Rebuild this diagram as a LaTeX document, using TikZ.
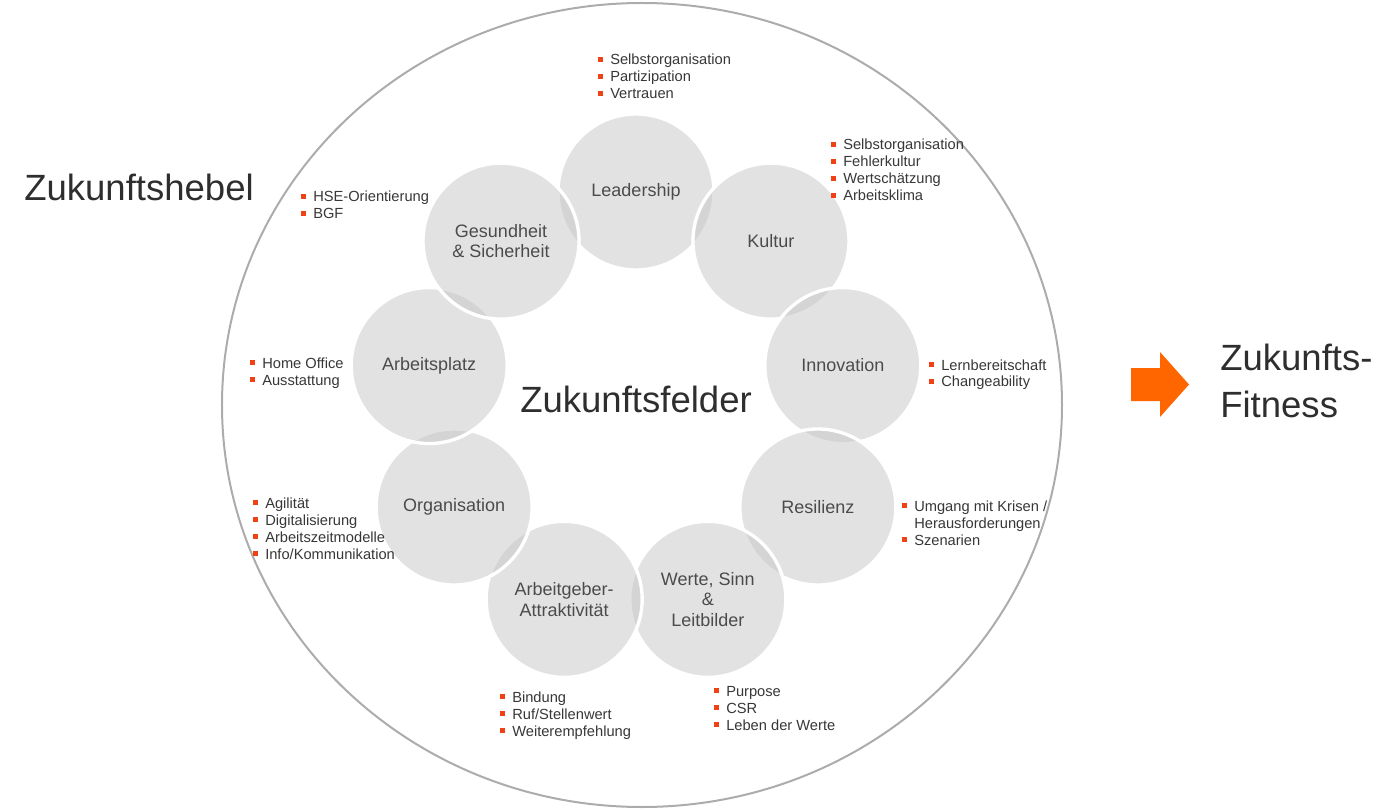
\documentclass[tikz,border=0pt]{standalone}
\usepackage{fontspec}
\setmainfont{Liberation Sans}
\usepackage{tikz}

\definecolor{feldgrau}{RGB}{198,198,198}
\definecolor{randgrau}{RGB}{172,172,172}
\definecolor{schrift}{RGB}{75,75,75}
\definecolor{punkttext}{RGB}{55,55,55}
\definecolor{punktrot}{RGB}{240,65,20}
\definecolor{pfeilorange}{RGB}{255,102,0}

\newcommand{\punkt}{\llap{\textcolor{punktrot}{\rule[2.6pt]{3.6pt}{3.6pt}}\hspace{5.4pt}}}
\newcommand{\liste}[1]{\begin{tabular}[t]{@{}l@{}}#1\end{tabular}}

\begin{document}
\begin{tikzpicture}[x=0.75pt, y=0.75pt,
	feld/.style={circle, draw=white, line width=2.5pt, fill=feldgrau, fill opacity=0.5, text opacity=1, minimum size=117pt, inner sep=0pt, align=center, text=schrift, font=\fontsize{13.5}{15.4}\selectfont},
	hebel/.style={anchor=base west, inner sep=0pt, text=punkttext, font=\fontsize{11}{12.75}\selectfont},
	titel/.style={inner sep=0pt, text=black!82, font=\fontsize{27.4}{35.25}\selectfont}]
	\useasboundingbox (-636,-408) rectangle (759,402);
	
	\draw[randgrau, line width=1.5pt] (6,-3) ellipse [x radius=420, y radius=402];
	
	\node[feld] (lead) at (90:210) {Leadership};
	\node[feld] (kultur) at (50:210) {Kultur};
	\node[feld] (innov) at (10:210) {Innovation};
	\node[feld] (resil) at (-30:210) {Resilienz};
	\node[feld] (werte) at (-70:210) {Werte, Sinn\\\&\\Leitbilder};
	\node[feld] (arbg) at (-110:210) {Arbeitgeber-\\Attraktivität};
	\node[feld] (orga) at (-150:210) {Organisation};
	\node[feld] (aplatz) at (170:210) {Arbeitsplatz};
	\node[feld] (gesund) at (130:210) {Gesundheit\\\& Sicherheit};
	
	\node[hebel] (h-lead) at (-26,337) {\liste{\punkt Selbstorganisation\\ \punkt Partizipation\\ \punkt Vertrauen}};
	\node[hebel] (h-kultur) at (207,252) {\liste{\punkt Selbstorganisation\\ \punkt Fehlerkultur\\ \punkt Wertschätzung\\ \punkt Arbeitsklima}};
	\node[hebel] (h-innov) at (305,32) {\liste{\punkt Lernbereitschaft\\ \punkt Changeability}};
	\node[hebel] (h-resil) at (278,-109) {\liste{\punkt Umgang mit Krisen /\\ Herausforderungen\\ \punkt Szenarien}};
	\node[hebel] (h-werte) at (90,-294) {\liste{\punkt Purpose\\ \punkt CSR\\ \punkt Leben der Werte}};
	\node[hebel] (h-arbg) at (-124,-300) {\liste{\punkt Bindung\\ \punkt Ruf/Stellenwert\\ \punkt Weiterempfehlung}};
	\node[hebel] (h-orga) at (-371,-106) {\liste{\punkt Agilität\\ \punkt Digitalisierung\\ \punkt Arbeitszeitmodelle\\ \punkt Info/Kommunikation}};
	\node[hebel] (h-aplatz) at (-374,34) {\liste{\punkt Home Office\\ \punkt Ausstattung}};
	\node[hebel] (h-gesund) at (-323,200) {\liste{\punkt HSE-Orientierung\\ \punkt BGF}};
	
	\node[titel] (felder) at (0,3) {Zukunftsfelder};
	\node[titel, anchor=west] (zkhebel) at (-612,215) {Zukunftshebel};
	\node[titel, anchor=west, align=left] (fitness) at (584,21) {Zukunfts-\\Fitness};
	
	\fill[pfeilorange] (495,34) -- (524,34) -- (524,50) -- (553,17.5) -- (524,-15) -- (524,1) -- (495,1) -- cycle;
\end{tikzpicture}
\end{document}
